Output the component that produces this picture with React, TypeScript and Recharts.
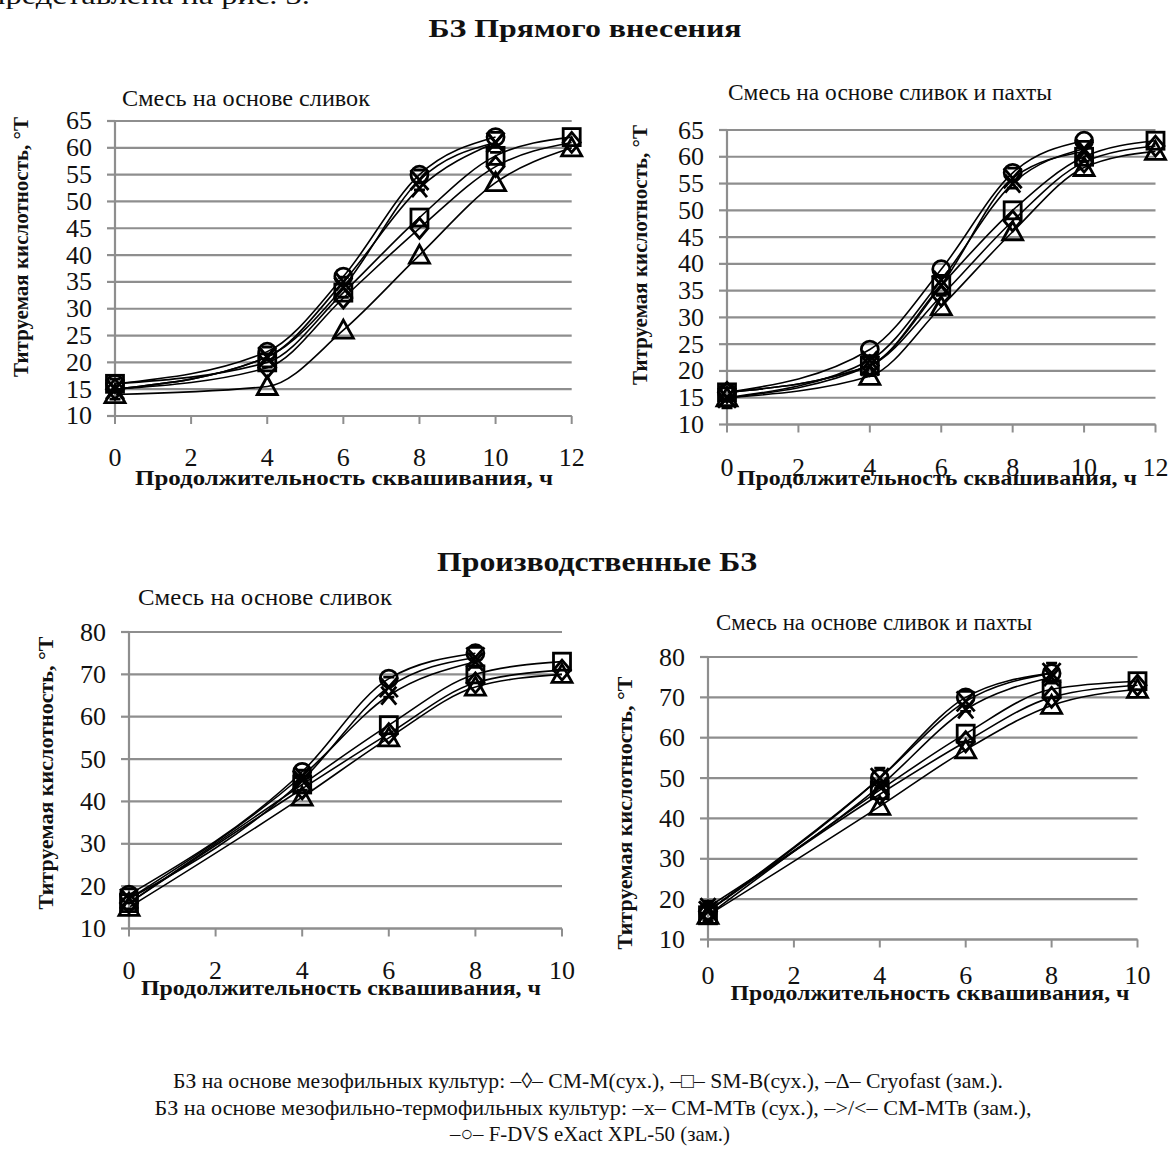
import React from 'react';
import { LineChart, Line, XAxis, YAxis, CartesianGrid } from 'recharts';

const TOP_HOURS = [0, 4, 6, 8, 10, 12];
const BOTTOM_HOURS = [0, 4, 6, 8, 10];

// БЗ прямого внесения, смесь на основе сливок
const TL_CMM = [15, 19, 32, 45, 56.5, 61];
const TL_SMB = [16, 20, 33, 47, 58.5, 62];
const TL_CRYO = [14, 15.5, 26, 40, 53.5, 60];
const TL_MTV_DRY = [15, 21, 35, 52.5, 61, null];
const TL_MTV_FROZEN = [15, 21, 34, 54, 61, null];
const TL_XPL = [16, 22, 36, 55, 62, null];

// БЗ прямого внесения, смесь на основе сливок и пахты
const TR_CMM = [16, 21, 34, 48, 59, 62];
const TR_SMB = [16, 21, 36, 50, 60, 63];
const TR_CRYO = [15, 19, 32, 46, 58, 61];
const TR_MTV_DRY = [15, 22, 37, 55, 61.5, null];
const TR_MTV_FROZEN = [15, 21, 36, 56, 61, null];
const TR_XPL = [16, 24, 39, 57, 63, null];

// Производственные БЗ, смесь на основе сливок
const BL_CMM = [16, 43, 56, 68, 71];
const BL_SMB = [16, 44, 58, 70, 73];
const BL_CRYO = [15, 41, 55, 67, 70];
const BL_MTV_DRY = [17, 46, 65, 73, null];
const BL_MTV_FROZEN = [17, 45, 67, 74, null];
const BL_XPL = [18, 47, 69, 75, null];

// Производственные БЗ, смесь на основе сливок и пахты
const BR_CMM = [17, 46, 59, 70, 73];
const BR_SMB = [16, 47, 61, 72, 74];
const BR_CRYO = [16, 43, 57, 68, 72];
const BR_MTV_DRY = [18, 48, 67, 75, null];
const BR_MTV_FROZEN = [17, 50, 69, 76, null];
const BR_XPL = [17, 50, 70, 76, null];

const TOP_X_TICKS = [0, 2, 4, 6, 8, 10, 12];
const BOTTOM_X_TICKS = [0, 2, 4, 6, 8, 10];
const TOP_Y_TICKS = [10, 15, 20, 25, 30, 35, 40, 45, 50, 55, 60, 65];
const BOTTOM_Y_TICKS = [10, 20, 30, 40, 50, 60, 70, 80];

const SERIES = [
  { key: 'cmm', shape: 'diamond' },
  { key: 'smb', shape: 'square' },
  { key: 'cryo', shape: 'triangle' },
  { key: 'mtvDry', shape: 'cross' },
  { key: 'mtvFrozen', shape: 'hourglass' },
  { key: 'xpl', shape: 'circle' },
];

const SERIF = "'Liberation Serif', 'Times New Roman', Times, serif";
const GRID = '#8e8e8e';

function buildRows(hours, cols) {
  return hours.map((h, i) => {
    const row = { h };
    SERIES.forEach((s, j) => {
      row[s.key] = cols[j][i];
    });
    return row;
  });
}

const PANELS = [
  {
    id: 'tl', L: 115, R: 571.7, T: 120.7, B: 415.7, xMax: 12, yMin: 10, yMax: 65,
    xTicks: TOP_X_TICKS, yTicks: TOP_Y_TICKS, xLab: 33.5,
    rows: buildRows(TOP_HOURS, [TL_CMM, TL_SMB, TL_CRYO, TL_MTV_DRY, TL_MTV_FROZEN, TL_XPL]),
  },
  {
    id: 'tr', L: 727, R: 1155.5, T: 130, B: 424.5, xMax: 12, yMin: 10, yMax: 65,
    xTicks: TOP_X_TICKS, yTicks: TOP_Y_TICKS, xLab: 35,
    rows: buildRows(TOP_HOURS, [TR_CMM, TR_SMB, TR_CRYO, TR_MTV_DRY, TR_MTV_FROZEN, TR_XPL]),
  },
  {
    id: 'bl', L: 129, R: 562, T: 631.5, B: 928, xMax: 10, yMin: 10, yMax: 80,
    xTicks: BOTTOM_X_TICKS, yTicks: BOTTOM_Y_TICKS, xLab: 34,
    rows: buildRows(BOTTOM_HOURS, [BL_CMM, BL_SMB, BL_CRYO, BL_MTV_DRY, BL_MTV_FROZEN, BL_XPL]),
  },
  {
    id: 'br', L: 707.5, R: 1137, T: 657, B: 939.5, xMax: 10, yMin: 10, yMax: 80,
    xTicks: BOTTOM_X_TICKS, yTicks: BOTTOM_Y_TICKS, xLab: 27.5,
    rows: buildRows(BOTTOM_HOURS, [BR_CMM, BR_SMB, BR_CRYO, BR_MTV_DRY, BR_MTV_FROZEN, BR_XPL]),
  },
];

function Marker(props) {
  const { cx, cy, value, shape, index } = props;
  if (value == null || cx == null || cy == null || isNaN(cy)) return <g key={index} />;
  const st = { fill: 'none', stroke: '#000', strokeWidth: 2.8 };
  const r = 8.5;
  if (shape === 'circle') return <circle key={index} cx={cx} cy={cy} r={r} {...st} />;
  if (shape === 'square') return <rect key={index} x={cx - r} y={cy - r} width={2 * r} height={2 * r} {...st} />;
  if (shape === 'diamond')
    return <polygon key={index} points={`${cx},${cy - 10} ${cx + 8.5},${cy} ${cx},${cy + 10} ${cx - 8.5},${cy}`} {...st} />;
  if (shape === 'triangle')
    return <polygon key={index} points={`${cx},${cy - 10} ${cx + 10},${cy + 8} ${cx - 10},${cy + 8}`} {...st} />;
  if (shape === 'cross')
    return (
      <path key={index} d={`M${cx - 7.5},${cy - 9}L${cx + 7.5},${cy + 9}M${cx + 7.5},${cy - 9}L${cx - 7.5},${cy + 9}`} {...st} />
    );
  return (
    <path
      key={index}
      d={`M${cx - 9},${cy - 10}L${cx + 9},${cy + 10}M${cx + 9},${cy - 10}L${cx - 9},${cy + 10}M${cx - 5.5},${cy - 10}L${cx + 5.5},${cy - 10}M${cx - 5.5},${cy + 10}L${cx + 5.5},${cy + 10}`}
      {...st}
    />
  );
}

const YW = 80;
const MR = 16;
const MT = 16;
const XH = 60;

const TICK_STYLE = { fontFamily: SERIF, fontSize: 26, fill: '#111' };

function XTick({ x, y, payload, off }) {
  return (
    <text x={x} y={y + off} textAnchor="middle" dominantBaseline="central" style={TICK_STYLE}>
      {payload.value}
    </text>
  );
}

function YTick({ x, y, payload }) {
  return (
    <text x={x} y={y} textAnchor="end" dominantBaseline="central" style={TICK_STYLE}>
      {payload.value}
    </text>
  );
}

function Panel({ p }) {
  const width = p.R - p.L + YW + MR;
  const height = p.B - p.T + MT + XH;
  return (
    <div style={{ position: 'absolute', left: p.L - YW, top: p.T - MT }}>
      <LineChart width={width} height={height} data={p.rows} margin={{ top: MT, right: MR, left: 0, bottom: 0 }}>
        <CartesianGrid vertical={false} stroke={GRID} strokeWidth={2.2} />
        <XAxis
          dataKey="h"
          type="number"
          domain={[0, p.xMax]}
          ticks={p.xTicks}
          height={XH}
          axisLine={{ stroke: GRID, strokeWidth: 2.2 }}
          tickLine={{ stroke: GRID, strokeWidth: 2 }}
          tickSize={8}
          tickMargin={0}
          tick={(tp) => <XTick {...tp} off={p.xLab} />}
          interval={0}
        />
        <YAxis
          type="number"
          domain={[p.yMin, p.yMax]}
          ticks={p.yTicks}
          width={YW}
          axisLine={{ stroke: GRID, strokeWidth: 2.2 }}
          tickLine={{ stroke: GRID, strokeWidth: 2.2 }}
          tickSize={8}
          tickMargin={15}
          tick={(tp) => <YTick {...tp} />}
          interval={0}
        />
        {SERIES.map((s) => (
          <Line
            key={s.key}
            dataKey={s.key}
            type="monotone"
            stroke="#000"
            strokeWidth={1.6}
            connectNulls={false}
            isAnimationActive={false}
            dot={(dp) => <Marker {...dp} shape={s.shape} key={dp.index} />}
            activeDot={false}
          />
        ))}
      </LineChart>
    </div>
  );
}

function HText({ x, y, len, size, bold, children }) {
  return (
    <text
      x={x}
      y={y}
      textAnchor="middle"
      dominantBaseline="central"
      textLength={len}
      lengthAdjust="spacingAndGlyphs"
      style={{ fontFamily: SERIF, fontSize: size, fontWeight: bold ? 700 : 400, fill: '#111' }}
    >
      {children}
    </text>
  );
}

function VText({ x, y, len, children }) {
  return (
    <text
      transform={`translate(${x},${y}) rotate(-90)`}
      textAnchor="middle"
      dominantBaseline="central"
      textLength={len}
      lengthAdjust="spacingAndGlyphs"
      style={{ fontFamily: SERIF, fontSize: 20, fontWeight: 700, fill: '#111' }}
    >
      {children}
    </text>
  );
}

const X_TITLE = 'Продолжительность сквашивания, ч';
const Y_TITLE = 'Титруемая кислотность, °Т';

export default function App() {
  return (
    <div style={{ position: 'absolute', left: 0, top: 0, width: 1173, height: 1173, background: '#fff', overflow: 'hidden', fontFamily: SERIF }}>
      {PANELS.map((p) => (
        <Panel key={p.id} p={p} />
      ))}
      <svg width={1173} height={1173} style={{ position: 'absolute', left: 0, top: 0, pointerEvents: 'none' }}>
        <text x={-12} y={4} textLength={322} lengthAdjust="spacingAndGlyphs" style={{ fontFamily: SERIF, fontSize: 26, fill: '#111' }}>
          представлена на рис. 3.
        </text>
        <HText x={585} y={28} len={313} size={25} bold>БЗ Прямого внесения</HText>
        <HText x={597} y={562} len={320} size={27} bold>Производственные БЗ</HText>

        <HText x={246} y={98} len={248} size={24}>Смесь на основе сливок</HText>
        <HText x={890} y={92} len={324} size={24}>Смесь на основе сливок и пахты</HText>
        <HText x={265} y={597} len={254} size={24}>Смесь на основе сливок</HText>
        <HText x={874} y={622} len={316} size={24}>Смесь на основе сливок и пахты</HText>

        <HText x={344} y={478} len={418} size={21} bold>{X_TITLE}</HText>
        <HText x={937} y={478} len={400} size={21} bold>{X_TITLE}</HText>
        <HText x={341} y={988} len={400} size={21} bold>{X_TITLE}</HText>
        <HText x={930} y={993} len={399} size={21} bold>{X_TITLE}</HText>

        <VText x={21} y={247} len={260}>{Y_TITLE}</VText>
        <VText x={640} y={255} len={260}>{Y_TITLE}</VText>
        <VText x={46} y={773} len={273}>{Y_TITLE}</VText>
        <VText x={625} y={813} len={273}>{Y_TITLE}</VText>

        <HText x={588} y={1080} len={830} size={22}>
          БЗ на основе мезофильных культур: –◊– СМ-М(сух.), –□– SM-B(сух.), –Δ– Cryofast (зам.).
        </HText>
        <HText x={593} y={1107} len={877} size={22}>
          БЗ на основе мезофильно-термофильных культур: –x– СМ-МТв (сух.), –&gt;/&lt;– СМ-МТв (зам.),
        </HText>
        <HText x={590} y={1133} len={280} size={22}>
          –○– F-DVS eXact XPL-50 (зам.)
        </HText>
      </svg>
    </div>
  );
}
